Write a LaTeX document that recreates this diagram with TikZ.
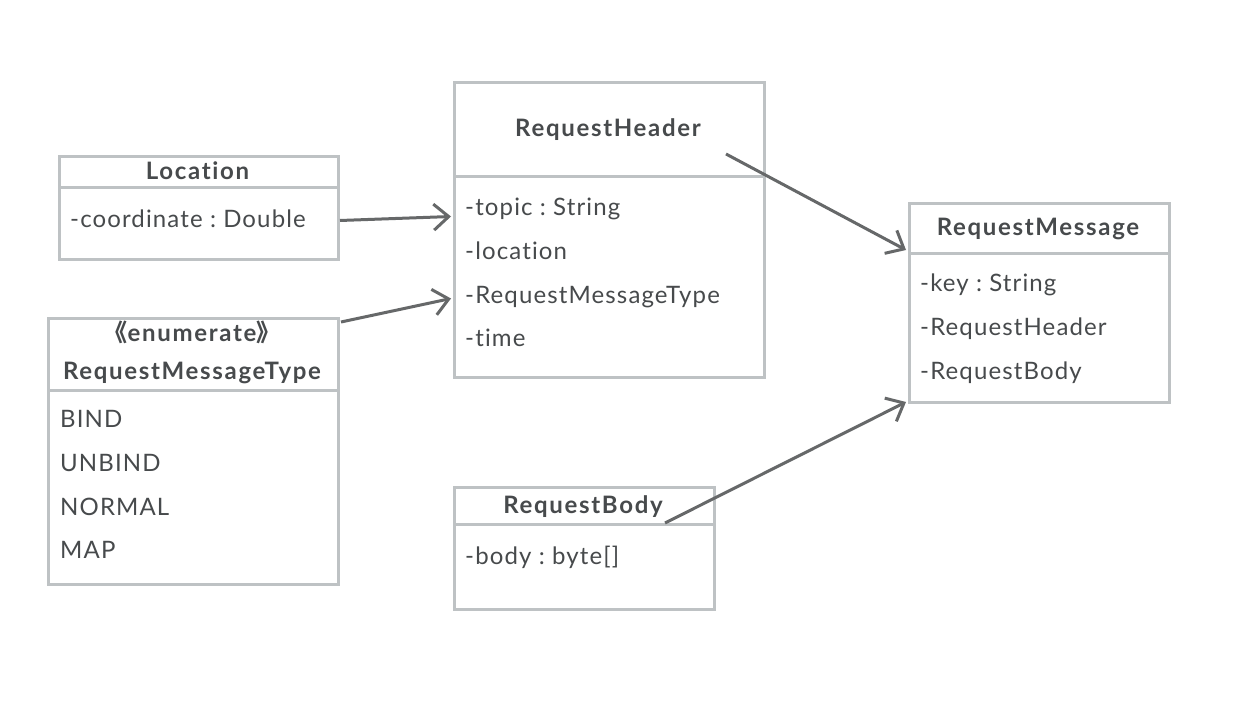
\documentclass[tikz,border=0pt]{standalone}
\usepackage{fontspec}
\setmainfont{Lato}[LetterSpace=4.7,Ligatures=NoCommon,BoldFeatures={LetterSpace=7}]
\newfontfamily\cjk{Noto Sans CJK SC}
\usetikzlibrary{arrows.meta,calc}
\definecolor{boxc}{HTML}{BEC2C4}
\definecolor{txt}{HTML}{474A4C}
\definecolor{arr}{HTML}{666869}
\tikzset{
  cls/.style={draw=boxc,line width=3pt,anchor=north west,inner sep=0pt},
  sep/.style={draw=boxc,line width=3pt},
  ttl/.style={font=\frenchspacing\bfseries\fontsize{24}{27}\selectfont,text=txt,anchor=center,inner sep=0pt,text height=16.5pt,text depth=0pt},
  attr/.style={font=\frenchspacing\fontsize{24}{27}\selectfont,text=txt,anchor=west,inner sep=0pt,text height=16.5pt,text depth=0pt},
  link/.style={draw=arr,line width=3pt,-{Straight Barb[length=15pt,width=26pt]}},
}
\begin{document}
\begin{tikzpicture}[x=1pt,y=-1pt]
\useasboundingbox[fill=white] (0,0) rectangle (1240,722);

% Location
\node[cls,minimum width=279pt,minimum height=103pt] (loc) at (58,155) {};
\draw[sep] (58,188) -- (337,188);
\node[ttl] (loct) at (197.5,171) {Location};
\node[attr] (loca) at (70,219) {-coordinate : Double};

% RequestMessageType
\node[cls,minimum width=290pt,minimum height=266pt] (rmt) at (47,317) {};
\draw[sep] (47,390) -- (337,390);
\node[ttl] (rmts) at (192,333) {{\cjk 《}enumerate{\cjk 》}};
\node[ttl] (rmtt) at (192,371) {RequestMessageType};
\node[attr] (rmt1) at (60,419) {BIND};
\node[attr] (rmt2) at (60,463) {UNBIND};
\node[attr] (rmt3) at (60,507) {NORMAL};
\node[attr] (rmt4) at (60,550) {MAP};

% RequestHeader
\node[cls,minimum width=310pt,minimum height=295pt] (rh) at (453,81) {};
\draw[sep] (453,177) -- (763,177);
\node[ttl] (rht) at (608,128) {RequestHeader};
\node[attr] (rh1) at (465,207) {-topic : String};
\node[attr] (rh2) at (465,251) {-location};
\node[attr] (rh3) at (465,295) {-RequestMessageType};
\node[attr] (rh4) at (465,338) {-time};

% RequestMessage
\node[cls,minimum width=260pt,minimum height=199pt] (rm) at (908,202) {};
\draw[sep] (908,254) -- (1168,254);
\node[ttl] (rmt0) at (1038,227) {RequestMessage};
\node[attr] (rm1) at (920,283) {-key : String};
\node[attr] (rm2) at (920,327) {-RequestHeader};
\node[attr] (rm3) at (920,371) {-RequestBody};

% RequestBody
\node[cls,minimum width=260pt,minimum height=122pt] (rb) at (453,486) {};
\draw[sep] (453,524) -- (713,524);
\node[ttl] (rbt) at (583,505) {RequestBody};
\node[attr] (rb1) at (465,556) {-body : byte[]};

% connectors
\draw[link] ($(loc.east)+(0,12.5)$) -- ($(rh.west)+(-2,-13.5)$);
\draw[link] ($(rmt.north east)+(1,5)$) -- ($(rh.west)+(-2,68.5)$);
\draw[link] ($(rh.north west)+(273,73)$) -- ($(rm.north west)+(-2,48)$);
\draw[link] ($(rb.north west)+(212,37)$) -- ($(rm.south west)+(-2,-2)$);
\end{tikzpicture}
\end{document}
